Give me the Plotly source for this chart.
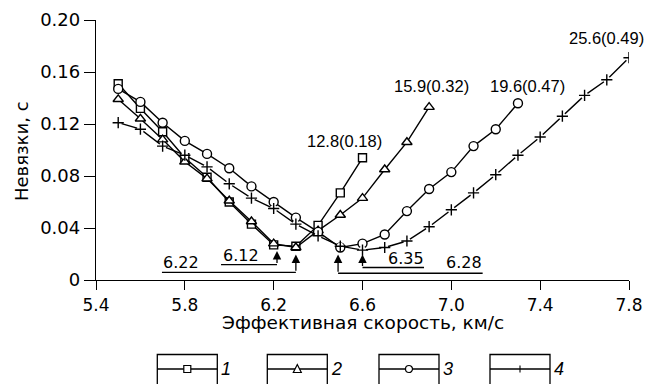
import plotly.graph_objects as go

# ---------------- data ----------------
x1 = [5.5, 5.6, 5.7, 5.8, 5.9, 6.0, 6.1, 6.2, 6.3, 6.4, 6.5, 6.6]
y1 = [0.151, 0.132, 0.114, 0.094, 0.079, 0.060, 0.043, 0.027, 0.026, 0.042, 0.067, 0.094]

x2 = [5.5, 5.6, 5.7, 5.8, 5.9, 6.0, 6.1, 6.2, 6.3, 6.4, 6.5, 6.6, 6.7, 6.8, 6.9]
y2 = [0.139, 0.124, 0.108, 0.091, 0.078, 0.061, 0.045, 0.028, 0.025, 0.038, 0.050, 0.063, 0.085, 0.106, 0.133]

x3 = [5.5, 5.6, 5.7, 5.8, 5.9, 6.0, 6.1, 6.2, 6.3, 6.4, 6.5, 6.6, 6.7, 6.8, 6.9, 7.0, 7.1, 7.2, 7.3]
y3 = [0.147, 0.137, 0.121, 0.107, 0.097, 0.086, 0.072, 0.060, 0.048, 0.037, 0.025, 0.028, 0.035, 0.053, 0.070, 0.083, 0.103, 0.116, 0.136]

x4 = [5.5, 5.6, 5.7, 5.8, 5.9, 6.0, 6.1, 6.2, 6.3, 6.4, 6.5, 6.6, 6.7, 6.8, 6.9, 7.0, 7.1, 7.2, 7.3, 7.4, 7.5, 7.6, 7.7, 7.8]
y4 = [0.121, 0.116, 0.103, 0.096, 0.087, 0.074, 0.063, 0.055, 0.043, 0.034, 0.026, 0.023, 0.025, 0.030, 0.041, 0.054, 0.067, 0.081, 0.096, 0.110, 0.126, 0.142, 0.154, 0.171]

series_x = [x1, x2, x3, x4]
series_y = [y1, y2, y3, y4]
series_symbols = ["square-open", "triangle-up-open", "circle-open", "cross-thin-open"]
series_names = ["1", "2", "3", "4"]
end_labels = ["12.8(0.18)", "15.9(0.32)", "19.6(0.47)", "25.6(0.49)"]

# minima: arrows with underlined values
min_labels = ["6.22", "6.12", "6.35", "6.28"]
min_arrow_x = [6.30, 6.215, 6.60, 6.49]
min_arrow_tip = [0.0196, 0.0223, 0.0196, 0.0196]
min_base_y = [0.0059, 0.0119, 0.0096, 0.0052]
min_line_end_x = [5.697, 5.963, 6.877, 7.141]
min_text_x = [5.783, 6.051, 6.796, 7.055]
min_text_y = [0.0131, 0.0185, 0.0167, 0.0136]

x_ticks = [5.4, 5.8, 6.2, 6.6, 7.0, 7.4, 7.8]
x_ticktext = ["5.4", "5.8", "6.2", "6.6", "7.0", "7.4", "7.8"]
y_ticks = [0, 0.04, 0.08, 0.12, 0.16, 0.20]
y_ticktext = ["0", "0.04", "0.08", "0.12", "0.16", "0.20"]

FONT_T = "DejaVu Sans, sans-serif"
FONT_L = "Liberation Sans, Arial, sans-serif"

# page has an 8px body margin: figure is placed at (8, 8)
OFF = 8
W, H = 654 - OFF, 384 - OFF
ML, MR, MT, MB = 96 - OFF, 25, 20 - OFF, 104
PW, PH = W - ML - MR, H - MT - MB


def px2paper(px, py):
    """page pixel -> paper coordinates"""
    return (px - OFF - ML) / PW, (H - MB - (py - OFF)) / PH


fig = go.Figure()

marker_sizes = [8, 9, 9, 8]
for i in range(4):
    fig.add_trace(go.Scatter(
        x=series_x[i], y=series_y[i], mode="lines",
        line=dict(color="black", width=1.4),
        showlegend=False, hoverinfo="skip"))
    fig.add_trace(go.Scatter(
        x=series_x[i], y=series_y[i], mode="markers",
        marker=dict(symbol="circle" if i == 3 else series_symbols[i].replace("-open", ""),
                    size=marker_sizes[i] if i < 3 else 7, color="white",
                    line=dict(width=0)),
        showlegend=False, hoverinfo="skip"))
    fig.add_trace(go.Scatter(
        x=series_x[i], y=series_y[i], mode="markers",
        marker=dict(symbol=series_symbols[i], size=marker_sizes[i], color="black",
                    line=dict(color="black", width=1.4)),
        name=series_names[i], showlegend=False))

annotations = []
shapes = []

# end labels
shifts = [(-18, 17), (2, 21), (10, 17), (-23, 20)]
for i in range(4):
    annotations.append(dict(
        x=series_x[i][-1], y=series_y[i][-1], xref="x", yref="y",
        text=end_labels[i], showarrow=False, xanchor="center", yanchor="middle",
        xshift=shifts[i][0], yshift=shifts[i][1],
        font=dict(family=FONT_L, size=16.5, color="black")))

# minima arrows
for i in range(4):
    shapes.append(dict(type="line", xref="x", yref="y",
                       x0=min_arrow_x[i], x1=min_line_end_x[i],
                       y0=min_base_y[i], y1=min_base_y[i],
                       line=dict(color="black", width=1.3)))
    annotations.append(dict(
        x=min_arrow_x[i], y=min_arrow_tip[i], ax=min_arrow_x[i], ay=min_base_y[i],
        xref="x", yref="y", axref="x", ayref="y", text="", showarrow=True,
        arrowhead=2, arrowsize=1.3, arrowwidth=1.3, arrowcolor="black"))
    annotations.append(dict(
        x=min_text_x[i], y=min_text_y[i], xref="x", yref="y", text=min_labels[i],
        showarrow=False, xanchor="center", yanchor="middle",
        font=dict(family=FONT_T, size=16, color="black")))

# axis titles
tx, ty = px2paper(362, 322.5)
annotations.append(dict(x=0.5, y=ty, xref="paper", yref="paper",
                        text="Эффективная скорость, км/с", showarrow=False,
                        xanchor="center", yanchor="middle",
                        font=dict(family=FONT_T, size=18.5, color="black")))
tx, ty = px2paper(21, 151)
annotations.append(dict(x=tx, y=ty, xref="paper", yref="paper",
                        text="Невязки, с", showarrow=False, textangle=-90,
                        xanchor="center", yanchor="middle",
                        font=dict(family=FONT_T, size=18, color="black")))

# custom legend: boxes with a line and a marker
box_left = [157.3, 267.3, 379.0, 490.0]
box_w = 60
box_top = 354.5
box_mid = 369
ms = 3.5  # half marker size in px
lw = dict(color="black", width=1.3)
for i in range(4):
    xa, ya = px2paper(box_left[i], box_top)
    xb, yb = px2paper(box_left[i] + box_w, 400)
    shapes.append(dict(type="rect", xref="paper", yref="paper", x0=xa, x1=xb, y0=yb, y1=ya,
                       line=lw))
    _, ym = px2paper(0, box_mid)
    shapes.append(dict(type="line", xref="paper", yref="paper", x0=xa, x1=xb, y0=ym, y1=ym,
                       line=lw))
    cx = box_left[i] + box_w / 2
    cy = box_mid
    if i == 0:
        p0 = px2paper(cx - ms, cy + ms)
        p1 = px2paper(cx + ms, cy - ms)
        shapes.append(dict(type="rect", xref="paper", yref="paper", x0=p0[0], y0=p0[1],
                           x1=p1[0], y1=p1[1], line=dict(color="black", width=1.2),
                           fillcolor="white"))
    elif i == 1:
        a = px2paper(cx - ms - 0.5, cy + ms)
        b = px2paper(cx + ms + 0.5, cy + ms)
        c = px2paper(cx, cy - ms - 1)
        path = f"M {a[0]},{a[1]} L {b[0]},{b[1]} L {c[0]},{c[1]} Z"
        shapes.append(dict(type="path", xref="paper", yref="paper", path=path,
                           line=dict(color="black", width=1.2), fillcolor="white"))
    elif i == 2:
        p0 = px2paper(cx - ms, cy + ms)
        p1 = px2paper(cx + ms, cy - ms)
        shapes.append(dict(type="circle", xref="paper", yref="paper", x0=p0[0], y0=p0[1],
                           x1=p1[0], y1=p1[1], line=dict(color="black", width=1.2),
                           fillcolor="white"))
    else:
        p0 = px2paper(cx, cy + ms)
        p1 = px2paper(cx, cy - ms)
        shapes.append(dict(type="line", xref="paper", yref="paper", x0=p0[0], y0=p0[1],
                           x1=p1[0], y1=p1[1], line=dict(color="black", width=1.1)))
    lx, ly = px2paper(box_left[i] + box_w + 9, box_mid)
    annotations.append(dict(x=lx, y=ly, xref="paper", yref="paper", text=series_names[i],
                            showarrow=False, xanchor="center", yanchor="middle",
                            font=dict(family=FONT_L, size=18, color="black", style="italic")))

fig.update_layout(
    width=W, height=H,
    margin=dict(l=ML, r=MR, t=MT, b=MB, pad=0, autoexpand=False),
    paper_bgcolor="white", plot_bgcolor="white",
    font=dict(family=FONT_T, size=17, color="black"),
    showlegend=False,
    xaxis=dict(range=[5.4, 7.8], tickvals=x_ticks, ticktext=x_ticktext,
               showline=True, linecolor="black", linewidth=1.3,
               ticks="outside", ticklen=9, tickwidth=1.3, tickcolor="black",
               showgrid=False, zeroline=False, tickfont=dict(size=17),
               automargin=False),
    yaxis=dict(range=[0, 0.20], tickvals=y_ticks, ticktext=y_ticktext,
               showline=True, linecolor="black", linewidth=1.3,
               ticks="outside", ticklen=11, tickwidth=1.3, tickcolor="black",
               showgrid=False, zeroline=False, tickfont=dict(size=18),
               automargin=False),
    annotations=annotations,
    shapes=shapes,
)

fig.write_html("out.html")
